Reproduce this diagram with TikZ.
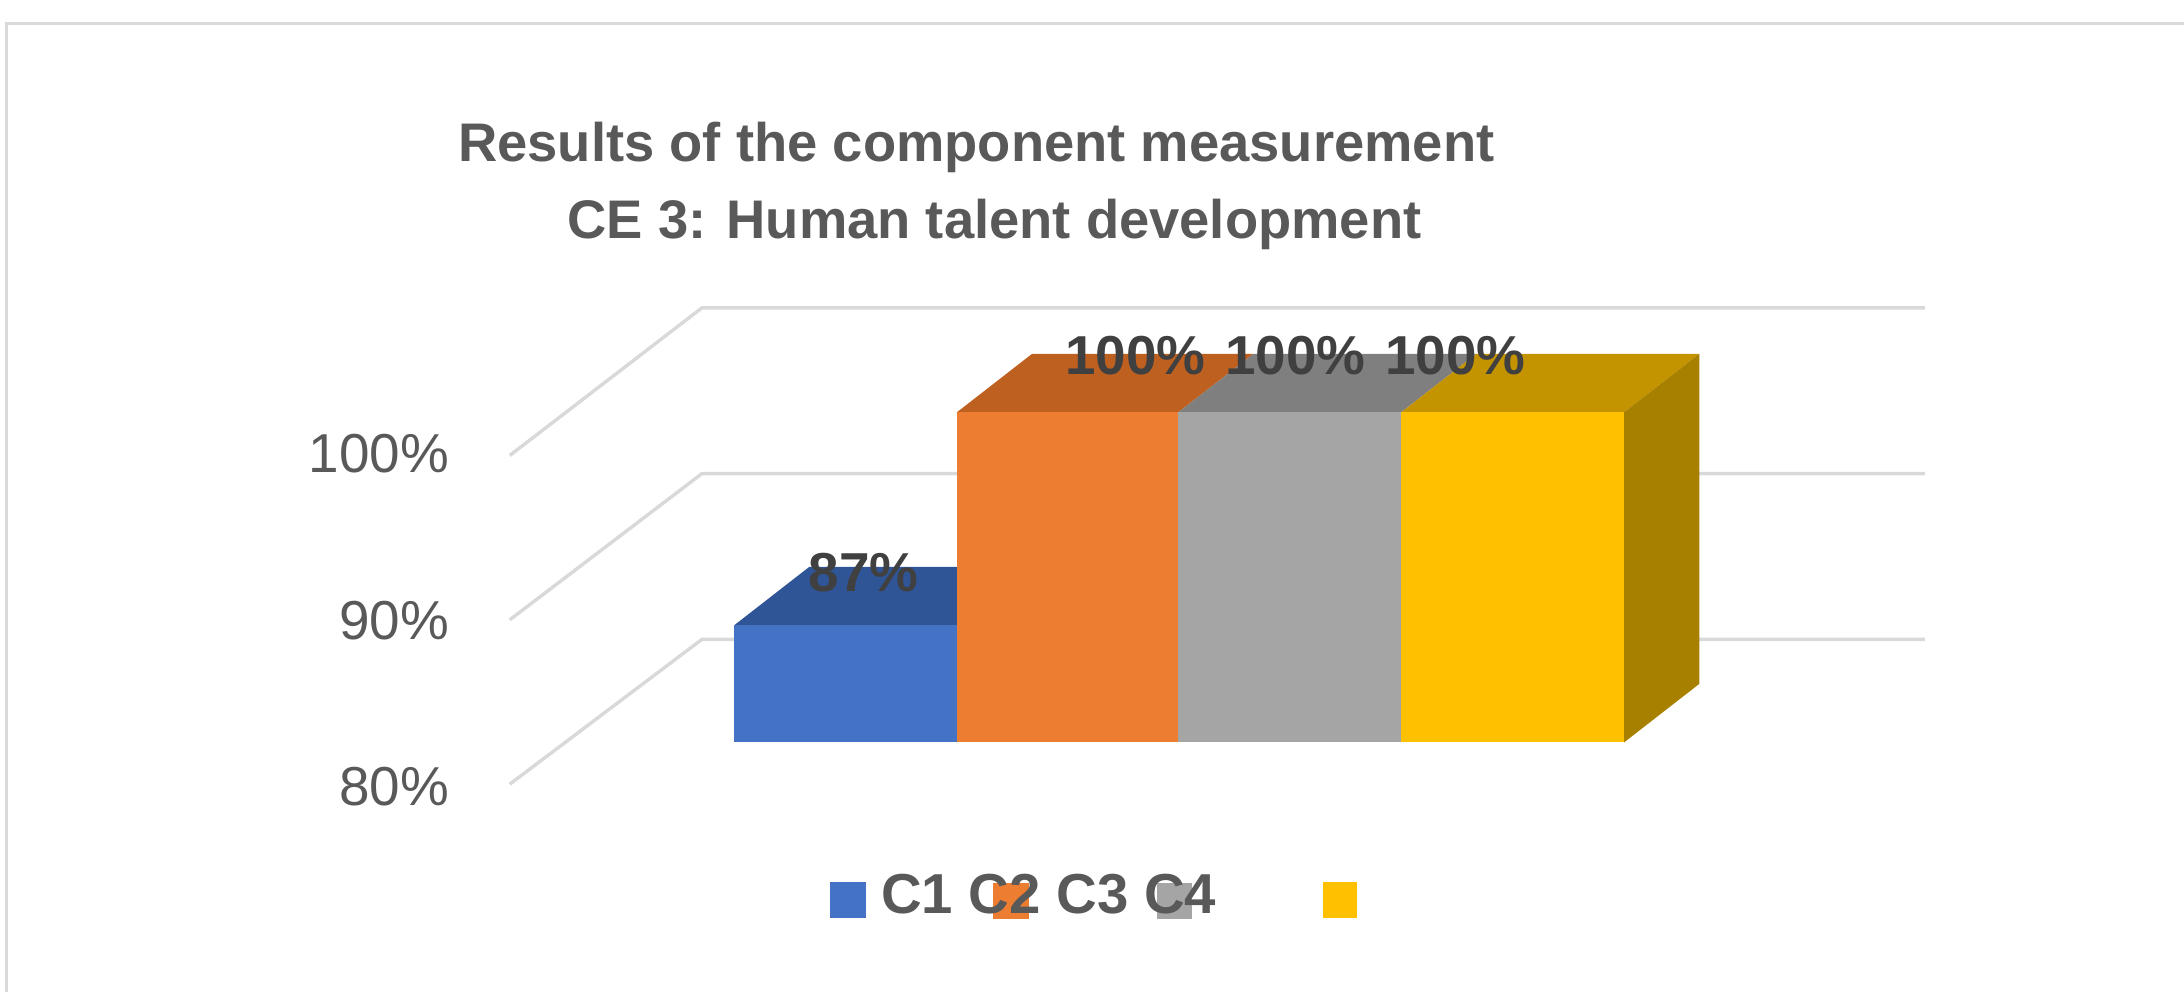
\documentclass[tikz,border=0pt]{standalone}
\usepackage{fontspec}
\setmainfont{Liberation Sans}
\usepackage{tikz}
\usetikzlibrary{positioning}
\usepackage{xcolor}
\definecolor{txtgray}{RGB}{89,89,89}
\definecolor{lblgray}{RGB}{64,64,64}
\definecolor{gridgray}{RGB}{217,217,217}
\definecolor{cblue}{RGB}{68,114,196}
\definecolor{cbluetop}{RGB}{47,85,151}
\definecolor{corange}{RGB}{237,125,49}
\definecolor{corangetop}{RGB}{190,96,32}
\definecolor{cgray}{RGB}{165,165,165}
\definecolor{cgraytop}{RGB}{127,127,127}
\definecolor{cyellow}{RGB}{255,192,0}
\definecolor{cyellowtop}{RGB}{196,147,0}
\definecolor{cyellowside}{RGB}{168,128,0}

\begin{document}
\begin{tikzpicture}[x=0.01cm,y=-0.01cm,
  grid/.style={gridgray,line width=0.7pt},
  ticklbl/.style={anchor=base east,inner sep=0pt,text=txtgray,font=\fontsize{11.2}{13}\selectfont},
  datalbl/.style={inner sep=0pt,text=lblgray,font=\bfseries\fontsize{11.2}{13}\selectfont},
  titlelbl/.style={anchor=base,inner sep=0pt,text=txtgray,font=\bfseries\fontsize{11.1}{13}\selectfont}]
\useasboundingbox (0,0) rectangle (1568,712);
\draw [gridgray,line width=0.6pt] (5,712) -- (5,17) -- (1568,17);

\node [titlelbl] (title) at (701,116) {Results of the component measurement};
\node [titlelbl] (subtitle) at (714,171) {CE 3: Human talent development};

% walls
\draw [grid] (366,327) -- (504,221) -- (1382,221);
\draw [grid] (366,445) -- (504,340) -- (1382,340);
\draw [grid] (366,563) -- (504,459) -- (1382,459);
\node [ticklbl] (t100) at (323,339) {100\%};
\node [ticklbl] (t90) at (323,459) {90\%};
\node [ticklbl] (t80) at (323,578) {80\%};

% bars
\fill [cbluetop] (527,449) -- (687,449) -- (741,407) -- (581,407) -- cycle;
\fill [cblue] (527,449) rectangle (687,533);
\fill [corangetop] (687,296) -- (846,296) -- (900,254) -- (741,254) -- cycle;
\fill [corange] (687,296) rectangle (846,533);
\fill [cgraytop] (846,296) -- (1006,296) -- (1060,254) -- (900,254) -- cycle;
\fill [cgray] (846,296) rectangle (1006,533);
\fill [cyellowtop] (1006,296) -- (1166,296) -- (1220,254) -- (1060,254) -- cycle;
\fill [cyellowside] (1166,296) -- (1220,254) -- (1220,491) -- (1166,533) -- cycle;
\fill [cyellow] (1006,296) rectangle (1166,533);

\node [datalbl] (v1) at (620,411) {87\%};
\node [datalbl] (v2) at (815,255) {100\%};
\node [datalbl] (v3) at (930,255) {100\%};
\node [datalbl] (v4) at (1045,255) {100\%};

% legend
\fill [cblue] (596,633) rectangle (622,659);
\fill [corange] (713,634) rectangle (739,660);
\fill [cgray] (831,634) rectangle (856,660);
\fill [cyellow] (950,633) rectangle (974,659);
\node [anchor=base west,inner sep=0pt,text=txtgray,font=\bfseries\fontsize{11.5}{13}\selectfont] (leg) at (632,656) {C1 C2 C3 C4};
\end{tikzpicture}
\end{document}
